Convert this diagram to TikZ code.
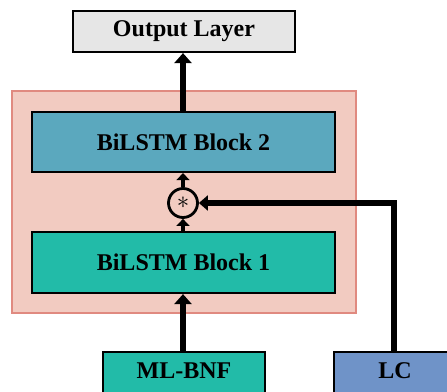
\documentclass[tikz,border=0pt]{standalone}
\usepackage{fontspec}
\setmainfont{Liberation Serif}
\usetikzlibrary{arrows.meta}
\definecolor{outgray}{HTML}{E6E6E6}
\definecolor{pinkbg}{HTML}{F2CBC1}
\definecolor{pinkborder}{HTML}{E08A80}
\definecolor{blocktwo}{HTML}{5BA8BE}
\definecolor{teal}{HTML}{22BBA8}
\definecolor{lcblue}{HTML}{6F93C8}
\tikzset{
  box/.style={draw=black, line width=2.2pt, inner sep=0pt, font=\fontsize{24}{28}\selectfont\bfseries},
  bigarrow/.style={line width=5.5pt, -{Triangle[width=17pt,length=10pt]}},
  smallarrow/.style={line width=4.5pt, -{Triangle[width=13pt,length=7pt]}},
}
\begin{document}
\begin{tikzpicture}[x=1pt,y=-1pt]
\useasboundingbox (0,0) rectangle (447,391);
\clip (0,0) rectangle (447,391);
\fill[white] (0,0) rectangle (447,391);
% background group
\draw[fill=pinkbg, draw=pinkborder, line width=1.8pt] (12,91) rectangle (356,313);
% nodes
\node[box, fill=outgray, minimum width=222pt, minimum height=41pt] (out) at (184,31.5) {Output Layer};
\node[box, fill=blocktwo, minimum width=303pt, minimum height=60pt] (b2) at (183.5,142) {BiLSTM Block 2};
\node[box, fill=teal, minimum width=303pt, minimum height=61pt] (b1) at (183.5,262.5) {BiLSTM Block 1};
\node[circle, draw=black, line width=2.8pt, fill=pinkbg, minimum size=29pt, inner sep=0pt, font=\fontsize{24}{24}\selectfont] (mul) at (183,203) {$\ast$};
\node[box, fill=teal, minimum width=162pt, minimum height=46pt] (ml) at (184,375) {};
\node[font=\fontsize{24}{28}\selectfont\bfseries] at (184,371) {ML-BNF};
\node[box, fill=lcblue, minimum width=124pt, minimum height=46pt] (lc) at (396,375) {};
\node[font=\fontsize{24}{28}\selectfont\bfseries] at (395,371) {LC};
% connectors
\draw[bigarrow] (ml.north -| 183,0) -- (b1.south -| 183,0);
\draw[smallarrow] (b1.north -| mul.south) -- (mul.south);
\draw[smallarrow] (mul.north) -- (b2.south -| mul.north);
\draw[bigarrow] (b2.north -| 183,0) -- (out.south -| 183,0);
\draw[line width=5.5pt, -{Triangle[width=15pt,length=9pt]}] (lc.north -| 394,0) |- (mul.east);
\end{tikzpicture}
\end{document}
